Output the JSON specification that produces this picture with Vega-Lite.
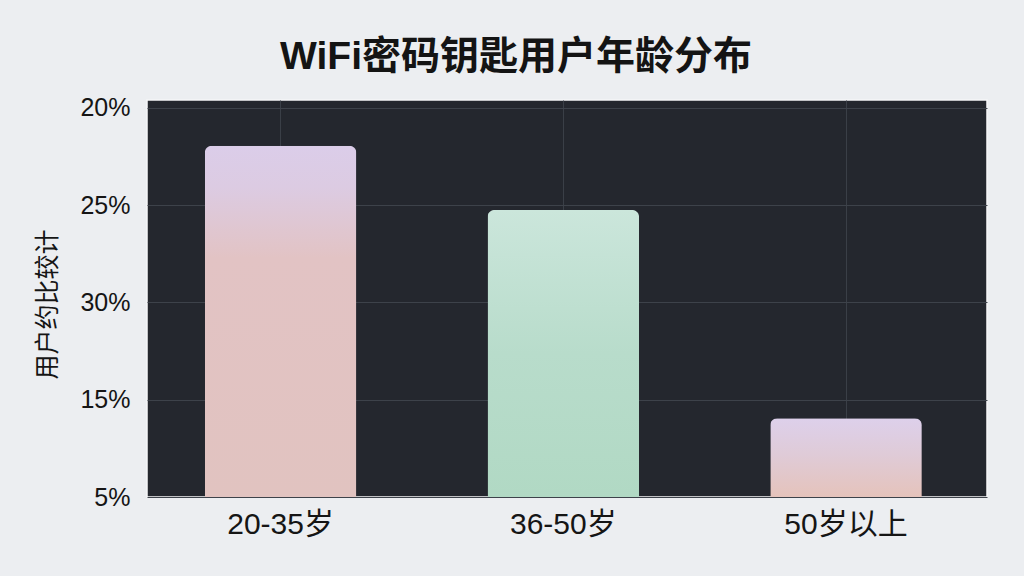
{
  "$schema": "https://vega.github.io/schema/vega-lite/v6.json",
  "width": 840,
  "height": 397,
  "autosize": "none",
  "padding": {"left": 147, "top": 100, "right": 37, "bottom": 79},
  "background": "#eceef1",
  "title": {
    "text": "WiFi密码钥匙用户年龄分布",
    "font": "Liberation Sans, Noto Sans CJK SC",
    "fontSize": 39,
    "fontWeight": "bold",
    "color": "#141414",
    "anchor": "start",
    "dx": 245,
    "offset": 19
  },
  "config": {
    "view": {"fill": "#24272e", "stroke": "#f5f6f8", "strokeWidth": 1.5}
  },
  "data": {
    "values": [
      {"group": "20-35岁", "value": 36.1},
      {"group": "36-50岁", "value": 29.5},
      {"group": "50岁以上", "value": 8.1}
    ]
  },
  "mark": {
    "type": "bar",
    "cornerRadiusTopLeft": 7,
    "cornerRadiusTopRight": 7
  },
  "encoding": {
    "x": {
      "field": "group",
      "type": "nominal",
      "sort": null,
      "scale": {"paddingInner": 0.464, "paddingOuter": 0.2175, "align": 0.47},
      "axis": {
        "title": null,
        "labelAngle": 0,
        "labelFont": "Liberation Sans, Noto Sans CJK SC",
        "labelFontSize": 30,
        "labelColor": "#151515",
        "labelPadding": 12,
        "domain": false,
        "ticks": false,
        "grid": true,
        "gridColor": "#3a3f47",
        "gridWidth": 1
      }
    },
    "y": {
      "field": "value",
      "type": "quantitative",
      "scale": {"domain": [0, 40.8], "nice": false},
      "axis": {
        "title": "用户约比较计",
        "titleFont": "Noto Sans CJK SC",
        "titleFontSize": 25,
        "titleFontWeight": "normal",
        "titleColor": "#151515",
        "titleAngle": -90,
        "titleX": -100,
        "titleY": 204,
        "titleAlign": "center",
        "titleBaseline": "middle",
        "values": [0, 10, 20, 30, 40],
        "labelExpr": "datum.value == 0 ? '5%' : datum.value == 10 ? '15%' : datum.value == 20 ? '30%' : datum.value == 30 ? '25%' : '20%'",
        "labelFont": "Liberation Sans",
        "labelFontSize": 25,
        "labelColor": "#151515",
        "labelPadding": 17,
        "domain": false,
        "ticks": false,
        "grid": true,
        "gridColor": "#3d424a",
        "gridWidth": 1.2
      }
    },
    "color": {
      "condition": [
        {
          "test": "datum.group === '20-35岁'",
          "value": {
            "gradient": "linear", "x1": 0, "y1": 0, "x2": 0, "y2": 1,
            "stops": [
              {"offset": 0, "color": "#dbcde9"},
              {"offset": 0.12, "color": "#dccbe2"},
              {"offset": 0.32, "color": "#e2c3c4"},
              {"offset": 1, "color": "#e1c3c0"}
            ]
          }
        },
        {
          "test": "datum.group === '36-50岁'",
          "value": {
            "gradient": "linear", "x1": 0, "y1": 0, "x2": 0, "y2": 1,
            "stops": [
              {"offset": 0, "color": "#cbe6db"},
              {"offset": 0.5, "color": "#b8dccb"},
              {"offset": 1, "color": "#b1d9c4"}
            ]
          }
        }
      ],
      "value": {
        "gradient": "linear", "x1": 0, "y1": 0, "x2": 0, "y2": 1,
        "stops": [
          {"offset": 0, "color": "#ddd0eb"},
          {"offset": 0.45, "color": "#dfcbd8"},
          {"offset": 1, "color": "#e5c3bb"}
        ]
      }
    }
  }
}
